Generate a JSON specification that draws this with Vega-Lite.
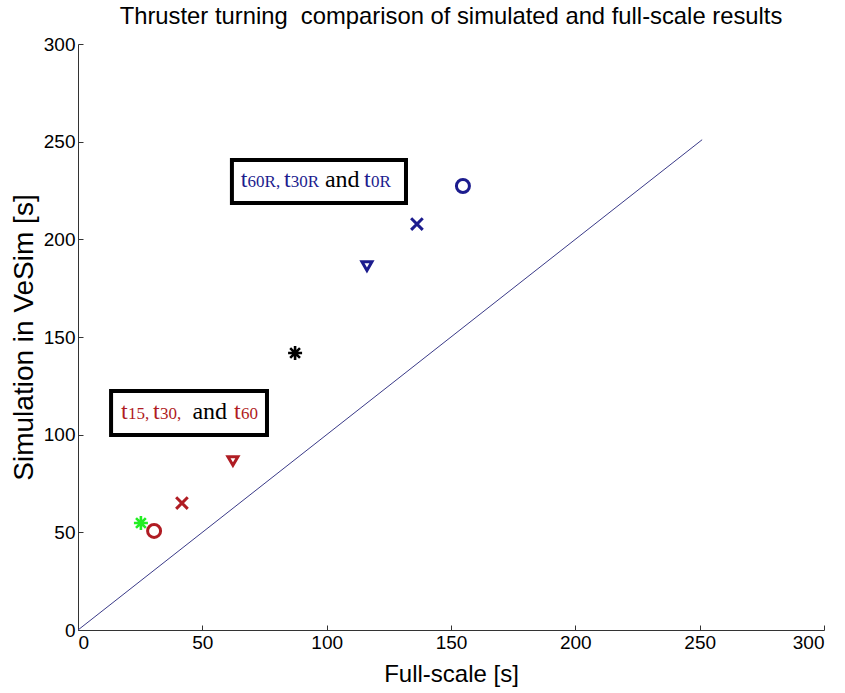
{
  "$schema": "https://vega.github.io/schema/vega-lite/v6.json",
  "autosize": {"type": "none"},
  "padding": {"left": 78, "top": 44, "right": 21, "bottom": 63},
  "width": 746,
  "height": 586,
  "background": "white",
  "title": {
    "text": "Thruster turning\u00a0 comparison of simulated and full-scale results",
    "font": "Liberation Sans",
    "fontSize": 23.8,
    "fontWeight": "normal",
    "color": "black",
    "anchor": "middle",
    "offset": 6
  },
  "config": {
    "view": {"stroke": null},
    "axis": {
      "grid": false,
      "domainColor": "#333333",
      "tickColor": "#333333",
      "tickSize": -5,
      "labelFont": "Liberation Sans",
      "labelFontSize": 19,
      "labelColor": "black",
      "labelPadding": 8,
      "titleFont": "Liberation Sans",
      "titleFontWeight": "normal",
      "titleColor": "black"
    }
  },
  "datasets": {
    "points": [
      {"case": "t15", "full": 30.6, "sim": 50.7, "marker": "circle", "tone": "red"},
      {"case": "t30", "full": 41.8, "sim": 65.0, "marker": "x", "tone": "red"},
      {"case": "t60", "full": 62.3, "sim": 86.5, "marker": "triangle", "tone": "red"},
      {"case": "other", "full": 87.3, "sim": 141.8, "marker": "asterisk", "tone": "black"},
      {"case": "t60R", "full": 116.2, "sim": 186.3, "marker": "triangle", "tone": "blue"},
      {"case": "t30R", "full": 136.3, "sim": 207.8, "marker": "x", "tone": "blue"},
      {"case": "t0R", "full": 154.8, "sim": 227.3, "marker": "circle", "tone": "blue"},
      {"case": "other2", "full": 25.3, "sim": 54.8, "marker": "asterisk", "tone": "green"}
    ]
  },
  "layer": [
    {
      "data": {"values": [{"full": 0, "sim": 0}, {"full": 251, "sim": 251}]},
      "mark": {"type": "line", "color": "#3a3a88", "strokeWidth": 1},
      "encoding": {
        "x": {"field": "full", "type": "quantitative", "scale": {"domain": [0, 300]}, "axis": {"values": [0, 50, 100, 150, 200, 250, 300], "title": "Full-scale [s]", "titleFontSize": 24, "titlePadding": 10}},
        "y": {"field": "sim", "type": "quantitative", "scale": {"domain": [0, 300]}, "axis": {"values": [0, 50, 100, 150, 200, 250, 300], "title": "Simulation in VeSim [s]", "titleFontSize": 28, "titlePadding": 5}}
      }
    },
    {
      "data": {"name": "points"},
      "transform": [{"filter": "datum.marker !== 'asterisk'"}],
      "mark": {"type": "point", "filled": false, "opacity": 1, "strokeWidth": 3},
      "encoding": {
        "x": {"field": "full", "type": "quantitative"},
        "y": {"field": "sim", "type": "quantitative"},
        "shape": {"field": "marker", "type": "nominal", "legend": null, "scale": {"domain": ["circle", "x", "triangle"], "range": ["circle", "M-1,-1L1,1M-1,1L1,-1", "triangle-down"]}},
        "size": {"field": "marker", "type": "ordinal", "legend": null, "scale": {"domain": ["circle", "x", "triangle"], "range": [169, 100, 225]}},
        "color": {"field": "tone", "type": "nominal", "legend": null, "scale": {"domain": ["red", "blue", "black", "green"], "range": ["#b01c23", "#1c1c8e", "#000000", "#22ee22"]}}
      }
    },
    {
      "data": {"name": "points"},
      "transform": [{"filter": "datum.marker === 'asterisk'"}],
      "mark": {"type": "point", "filled": false, "opacity": 1, "strokeWidth": 2.6, "size": 196, "shape": "M-1,0L1,0M0,-1L0,1M-0.7,-0.7L0.7,0.7M-0.7,0.7L0.7,-0.7"},
      "encoding": {
        "x": {"field": "full", "type": "quantitative"},
        "y": {"field": "sim", "type": "quantitative"},
        "color": {"field": "tone", "type": "nominal", "legend": null}
      }
    },
    {
      "data": {"values": [
        {"x1": 13.3, "x2": 76.0, "y1": 99.8, "y2": 122.4},
        {"x1": 61.9, "x2": 131.9, "y1": 218.6, "y2": 240.6}
      ]},
      "mark": {"type": "rect", "fill": "white", "stroke": "black", "strokeWidth": 4},
      "encoding": {
        "x": {"field": "x1", "type": "quantitative"},
        "x2": {"field": "x2"},
        "y": {"field": "y1", "type": "quantitative"},
        "y2": {"field": "y2"}
      }
    },
    {
      "data": {"values": [
        {"px": 17.3, "py": 108.0, "label": "t", "tone": "red"},
        {"px": 30.2, "py": 108.0, "label": "t", "tone": "red"},
        {"px": 46.0, "py": 108.0, "label": "and", "tone": "black"},
        {"px": 62.7, "py": 108.0, "label": "t", "tone": "red"},
        {"px": 65.4, "py": 226.8, "label": "t", "tone": "blue"},
        {"px": 82.8, "py": 226.8, "label": "t", "tone": "blue"},
        {"px": 99.3, "py": 226.8, "label": "and", "tone": "black"},
        {"px": 115.0, "py": 226.8, "label": "t", "tone": "blue"}
      ]},
      "mark": {"type": "text", "align": "left", "baseline": "alphabetic", "font": "Liberation Serif", "fontSize": 24},
      "encoding": {
        "x": {"field": "px", "type": "quantitative"},
        "y": {"field": "py", "type": "quantitative"},
        "text": {"field": "label"},
        "color": {"field": "tone", "type": "nominal", "legend": null}
      }
    },
    {
      "data": {"values": [
        {"px": 20.1, "py": 108.0, "label": "15,", "tone": "red"},
        {"px": 33.0, "py": 108.0, "label": "30,", "tone": "red"},
        {"px": 65.5, "py": 108.0, "label": "60", "tone": "red"},
        {"px": 68.2, "py": 226.8, "label": "60R,", "tone": "blue"},
        {"px": 85.6, "py": 226.8, "label": "30R", "tone": "blue"},
        {"px": 117.8, "py": 226.8, "label": "0R", "tone": "blue"}
      ]},
      "mark": {"type": "text", "align": "left", "baseline": "alphabetic", "font": "Liberation Serif", "fontSize": 17},
      "encoding": {
        "x": {"field": "px", "type": "quantitative"},
        "y": {"field": "py", "type": "quantitative"},
        "text": {"field": "label"},
        "color": {"field": "tone", "type": "nominal", "legend": null}
      }
    }
  ]
}
